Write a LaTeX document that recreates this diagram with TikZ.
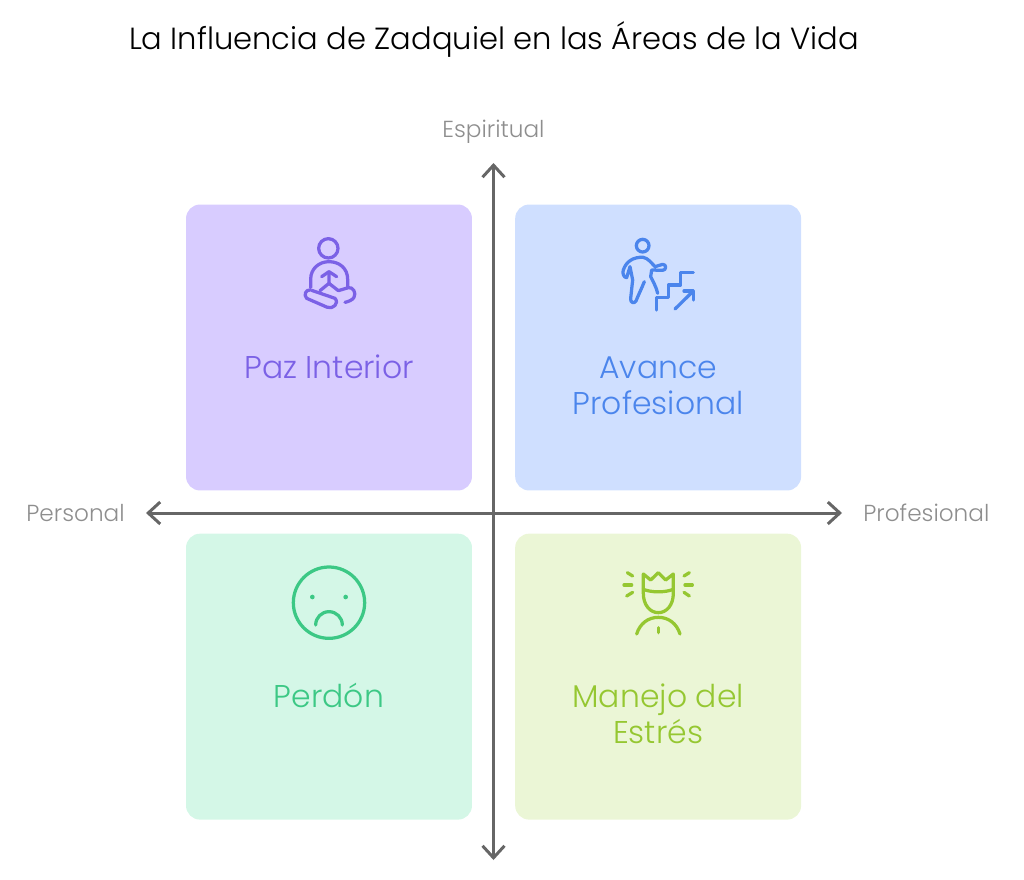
\documentclass[tikz,border=0pt]{standalone}
\usepackage{fontspec}
\setmainfont{Poppins Light}
\usetikzlibrary{arrows.meta,positioning}
\definecolor{axisgray}{HTML}{666666}
\definecolor{labelgray}{HTML}{8E8E8E}
\definecolor{pazfill}{HTML}{D8CCFF}
\definecolor{pazdraw}{HTML}{7B61E6}
\definecolor{avancefill}{HTML}{CFDFFF}
\definecolor{avancedraw}{HTML}{4B85EC}
\definecolor{perdonfill}{HTML}{D4F7E7}
\definecolor{perdondraw}{HTML}{3CC885}
\definecolor{estresfill}{HTML}{EBF6D6}
\definecolor{estresdraw}{HTML}{95C731}

\begin{document}
\begin{tikzpicture}[x=0.02cm, y=-0.02cm,
    quadrant/.style={rectangle, rounded corners=0.28cm, minimum size=5.72cm, inner sep=0pt},
    quadlabel/.style={inner sep=0pt, align=center, font=\fontsize{17.9}{20.4}\selectfont, execute at begin node=\strut},
    axislabel/.style={inner sep=0pt, text=labelgray, font=\fontsize{13.2}{15}\selectfont},
    axisline/.style={draw=axisgray, line width=1.7pt, {Straight Barb[length=2.4mm, width=4.4mm]}-{Straight Barb[length=2.4mm, width=4.4mm]}},
    icon/.style={x=0.006667cm, y=-0.006667cm, line width=1.85pt, line cap=round, line join=round}]

  \useasboundingbox (0,0) rectangle (1024,879);

  % Title
  \node[inner sep=0pt, font=\fontsize{17.4}{20}\selectfont] (title) at (494,39) {La Influencia de Zadquiel en las Áreas de la Vida};

  % Define nodes
  \node[quadrant, fill=pazfill] (paz) at (329,347.5) {};
  \node[quadrant, fill=avancefill, right=0.85cm of paz] (avance) {};
  \node[quadrant, fill=perdonfill, below=0.85cm of paz] (perdon) {};
  \node[quadrant, fill=estresfill, right=0.85cm of perdon] (estres) {};

  \node[quadlabel, text=pazdraw, below=2.98cm of paz.north] (pazlabel) {Paz Interior};
  \node[quadlabel, text=avancedraw, below=3.04cm of avance.north] (avancelabel) {Avance\\Profesional};
  \node[quadlabel, text=perdondraw, below=2.98cm of perdon.north] (perdonlabel) {Perdón};
  \node[quadlabel, text=estresdraw, below=3.01cm of estres.north] (estreslabel) {Manejo del\\Estrés};

  % Axes
  \coordinate (top) at (493.5,163);
  \coordinate (bottom) at (493.5,860);
  \coordinate (left) at (146,513);
  \coordinate (right) at (842,513);
  \draw[axisline] (bottom) -- (top);
  \draw[axisline] (left) -- (right);

  \node[axislabel, above=0.38cm of top] (spiritual) {Espiritual};
  \node[axislabel, left=0.42cm of left] (personal) {Personal};
  \node[axislabel, right=0.42cm of right] (professional) {Profesional};

  % Icons
  \begin{scope}[shift={(280,220)}, icon, draw=pazdraw]
    \draw (145,85) circle (29);
    \draw (92,203) -- (92,178) .. controls (92,145) and (118,125) .. (147,125) .. controls (178,125) and (203,145) .. (203,178) -- (203,203);
    \draw (125,170) -- (147,155) -- (170,170);
    \draw (147,155) -- (147,190) -- (120,212);
    \draw (147,190) -- (175,212);
    \draw (90,210) .. controls (78,208) and (70,225) .. (80,235) -- (142,262) .. controls (160,268) and (178,250) .. (165,235) -- (95,211);
    \draw (175,212) -- (205,203) .. controls (218,200) and (230,218) .. (222,232) .. controls (218,240) and (205,245) .. (195,247);
  \end{scope}

  \begin{scope}[shift={(610,225)}, icon, draw=avancedraw]
    \draw (98,62) circle (19);
    \draw (103,170) .. controls (95,190) and (85,210) .. (78,228) .. controls (72,238) and (60,232) .. (62,220) -- (68,165) -- (60,125) -- (50,158) .. controls (42,158) and (36,145) .. (40,135) .. controls (48,110) and (70,95) .. (100,97) .. controls (115,100) and (125,115) .. (135,125) -- (158,118) .. controls (170,118) and (170,135) .. (158,136) -- (125,135) -- (122,155) .. controls (130,170) and (140,190) .. (143,205);
    \draw (140,255) -- (140,217) -- (175,217) -- (175,180) -- (212,180) -- (212,143) -- (250,143);
    \draw (195,252) -- (250,198);
    \draw (222,198) -- (250,198) -- (250,225);
  \end{scope}

  \begin{scope}[shift={(280,555)}, icon, draw=perdondraw]
    \draw (147,143) circle (107);
    \fill[perdondraw] (97,126) circle (7);
    \fill[perdondraw] (197,126) circle (7);
    \draw (107,210) arc (180:360:40);
  \end{scope}

  \begin{scope}[shift={(610,560)}, icon, draw=estresdraw]
    \draw (100,42) -- (100,100) .. controls (100,135) and (120,158) .. (145,158) .. controls (170,158) and (190,135) .. (190,100) -- (190,42) -- (167,60) -- (145,38) -- (122,60) -- cycle;
    \draw (100,88) .. controls (125,98) and (165,98) .. (190,88);
    \draw (80,222) .. controls (90,190) and (115,172) .. (145,172) .. controls (175,172) and (200,190) .. (210,222);
    \draw (145,203) -- (145,218);
    \draw (52,38) -- (68,48);
    \draw (42,75) -- (65,75);
    \draw (50,108) -- (68,97);
    \draw (238,38) -- (222,48);
    \draw (247,75) -- (225,75);
    \draw (238,108) -- (222,97);
  \end{scope}

\end{tikzpicture}
\end{document}
